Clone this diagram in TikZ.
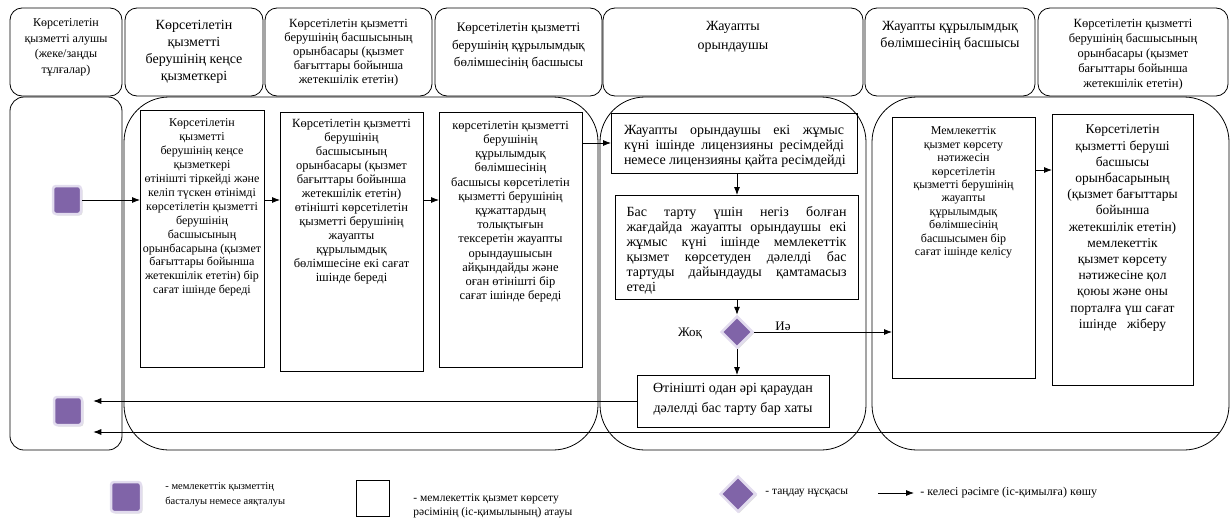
\documentclass[tikz,border=0pt]{standalone}
\usepackage{fontspec}
\setmainfont{Liberation Serif}
\usepackage{xcolor}
\usepackage{graphicx}
\usepackage{tikz}
\usetikzlibrary{arrows.meta,shapes.geometric,shadows}

\definecolor{startviolet}{RGB}{128,100,168}
\definecolor{startrim}{RGB}{226,220,238}

% box text: width, height, gap on top, text
\newcommand{\boxtxt}[4]{\parbox[c][#2][t]{#1}{\vspace*{#3}\centering #4}}
\newcommand{\fs}[2]{\fontsize{#1}{#2}\selectfont}
\newcommand{\jl}[1]{\makebox[220pt][s]{#1}\\}
\newcommand{\jlast}[1]{\makebox[220pt][l]{#1}}

\begin{document}
\begin{tikzpicture}[x=1pt,y=-1pt,line width=0.8pt,
    head/.style={draw,rounded corners=12pt,inner sep=0pt,outer sep=0pt},
    lane/.style={draw,rounded corners=45pt},
    stepbox/.style={draw,inner sep=0pt,outer sep=0pt},
    startend/.style={draw=startrim,line width=2.5pt,fill=startviolet,rounded corners=3pt,
        minimum size=28pt,inner sep=0pt,drop shadow={opacity=0.25,shadow xshift=1.5pt,shadow yshift=-1.5pt}},
    choicebox/.style={diamond,draw=startrim,line width=2.5pt,fill=startviolet,
        minimum size=32pt,inner sep=0pt,drop shadow={opacity=0.25,shadow xshift=1.5pt,shadow yshift=-1.5pt}},
    arr/.style={-{Latex[length=8pt,width=6pt]}},
    lgtext/.style={anchor=west,align=left,inner sep=0pt}]
    \useasboundingbox (0,0) rectangle (1231,522);

    % headers
    \node[head] (h1) at (66,52) {\boxtxt{112pt}{88pt}{11pt}{\fs{12}{15.5}Көрсетілетін\\қызметті алушы\\(жеке/заңды\\тұлғалар)}};
    \node[head] (h2) at (194,52) {\boxtxt{138pt}{88pt}{12pt}{\fs{14}{17}Көрсетілетін\\қызметті\\берушінің кеңсе\\қызметкері}};
    \node[head] (h3) at (348.5,52) {\boxtxt{167pt}{88pt}{11pt}{\fs{12.5}{14}Көрсетілетін қызметті\\берушінің басшысының\\орынбасары (қызмет\\бағыттары бойынша\\жетекшілік ететін)}};
    \node[head] (h4) at (518.5,52) {\boxtxt{167pt}{88pt}{15pt}{\fs{13}{17.5}Көрсетілетін қызметті\\берушінің құрылымдық\\бөлімшесінің басшысы}};
    \node[head] (h5) at (733,52) {\boxtxt{260pt}{88pt}{13pt}{\fs{14}{19}Жауапты\\орындаушы}};
    \node[head] (h6) at (950,52) {\boxtxt{170pt}{88pt}{13pt}{\fs{14}{17}Жауапты құрылымдық\\бөлімшесінің басшысы}};
    \node[head] (h7) at (1133,52) {\boxtxt{190pt}{88pt}{11pt}{\fs{12.5}{15}Көрсетілетін қызметті\\берушінің басшысының\\орынбасары (қызмет\\бағыттары бойынша\\жетекшілік ететін)}};

    % lanes
    \draw[lane,rounded corners=14pt] (10,97) rectangle (122,450);
    \draw[lane] (124,97) rectangle (598,450);
    \draw[lane] (600,97) rectangle (866,450);
    \draw[lane] (872,97) rectangle (1229,450);

    \node[startend] (start1) at (67,200) {};
    \node[startend] (end1) at (68,411) {};

    \node[stepbox] (office) at (202,238.5) {\boxtxt{124pt}{257pt}{9pt}{\fs{12}{13.9}Көрсетілетін\\қызметті\\берушінің кеңсе\\қызметкері\\өтінішті тіркейді және\\келіп түскен өтінімді\\көрсетілетін қызметті\\берушінің\\басшысының\\орынбасарына (қызмет\\бағыттары бойынша\\жетекшілік ететін) бір\\сағат ішінде береді}};
    \node[stepbox] (deputy) at (351.5,241.5) {\boxtxt{143pt}{259pt}{7pt}{\fs{12.5}{14}Көрсетілетін қызметті\\берушінің\\басшысының\\орынбасары (қызмет\\бағыттары бойынша\\жетекшілік ететін)\\өтінішті көрсетілетін\\қызметті берушінің\\жауапты\\құрылымдық\\бөлімшесіне екі сағат\\ішінде береді}};
    \node[stepbox] (unithead) at (510.5,239.5) {\boxtxt{143pt}{255pt}{9pt}{\fs{12.5}{14.2}көрсетілетін қызметті\\берушінің\\құрылымдық\\бөлімшесінің\\басшысы көрсетілетін\\қызметті берушінің\\құжаттардың\\толықтығын\\тексеретін жауапты\\орындаушысын\\айқындайды және\\оған өтінішті бір\\сағат ішінде береді}};
    \node[stepbox] (issue) at (734,143) {\boxtxt{246pt}{60pt}{12pt}{\fs{14}{15}\jl{Жауапты орындаушы екі жұмыс}\jl{күні ішінде лицензияны ресімдейді}\jlast{немесе лицензияны қайта ресімдейді}}};
    \node[stepbox] (refusedraft) at (736.5,247) {\boxtxt{243pt}{104pt}{11pt}{\fs{14}{15}\jl{Бас тарту үшін негіз болған}\jl{жағдайда жауапты орындаушы екі}\jl{жұмыс күні ішінде мемлекеттік}\jl{қызмет көрсетуден дәлелді бас}\jl{тартуды дайындауды қамтамасыз}\jlast{етеді}}};
    \node[choicebox] (choice) at (737,332) {};
    \node[stepbox] (refusal) at (733,401) {\boxtxt{192pt}{52pt}{8pt}{\fs{14}{20}Өтінішті одан әрі қараудан\\дәлелді бас тарту бар хаты}};
    \node[stepbox] (agree) at (963.5,247.5) {\boxtxt{143pt}{261pt}{10pt}{\fs{12}{13.4}Мемлекеттік\\қызмет көрсету\\нәтижесін\\көрсетілетін\\қызметті берушінің\\жауапты\\құрылымдық\\бөлімшесінің\\басшысымен бір\\сағат ішінде келісу}};
    \node[stepbox] (sign) at (1122.5,249.5) {\boxtxt{141pt}{271pt}{11pt}{\fs{13.5}{16.2}Көрсетілетін\\қызметті беруші\\басшысы\\орынбасарының\\(қызмет бағыттары\\бойынша\\жетекшілік ететін)\\мемлекеттік\\қызмет көрсету\\нәтижесіне қол\\қоюы және оны\\порталға үш сағат\\ішінде~~~жіберу}};

    \node[inner sep=0pt,font=\fs{13}{15}] (no) at (690,333) {Жоқ};
    \node[inner sep=0pt,font=\fs{13}{15}] (yes) at (783,326) {Иә};

    \coordinate (agreeout) at (1035,170);
    \coordinate (laneout) at (1220,432);

    \draw[arr] (start1.east) -- (office.west |- start1);
    \draw[arr] (office.east |- start1) -- (deputy.west |- start1);
    \draw[arr] (deputy.east |- start1) -- (unithead.west |- start1);
    \draw[arr] (unithead.east |- issue) -- (issue.west);
    \draw[arr] (issue.south -| choice) -- (refusedraft.north -| choice);
    \draw[arr] (refusedraft.south -| choice) -- (choice.north);
    \draw[arr] (choice.south) -- (refusal.north -| choice);
    \draw[arr] (choice.east) -- (choice.east -| agree.west);
    \draw[arr] (agreeout) -- (agreeout -| sign.west);
    \draw[arr] (refusal.west) -- ([xshift=10pt]end1.east |- refusal.west);
    \draw[arr] (laneout) -- ([xshift=10pt]end1.east |- laneout);

    % legend
    \node[startend,minimum size=30pt] (lgstart) at (126,497) {};
    \node[lgtext,font=\fs{10.5}{15}] (lgstarttxt) at (165,495) {- мемлекеттік қызметтің\\басталуы немесе аяқталуы};
    \node[draw,line width=0.6pt,minimum width=33pt,minimum height=36pt,inner sep=0pt] (lgstep) at (373,498) {};
    \node[lgtext,font=\fs{11.5}{14}] (lgsteptxt) at (413,506) {- мемлекеттік қызмет көрсету\\рәсімінің (іс-қимылының) атауы};
    \node[choicebox,minimum size=36pt] (lgchoice) at (738,494) {};
    \node[lgtext,font=\fs{11.5}{14}] (lgchoicetxt) at (765,493) {- таңдау нұсқасы};
    \coordinate (lgarrow) at (878,493);
    \node[lgtext,font=\fs{12}{14}] (lgarrowtxt) at (920,493) {- келесі рәсімге (іс-қимылға) көшу};
    \draw[arr] (lgarrow) -- ([xshift=-6pt]lgarrowtxt.west);
\end{tikzpicture}
\end{document}
